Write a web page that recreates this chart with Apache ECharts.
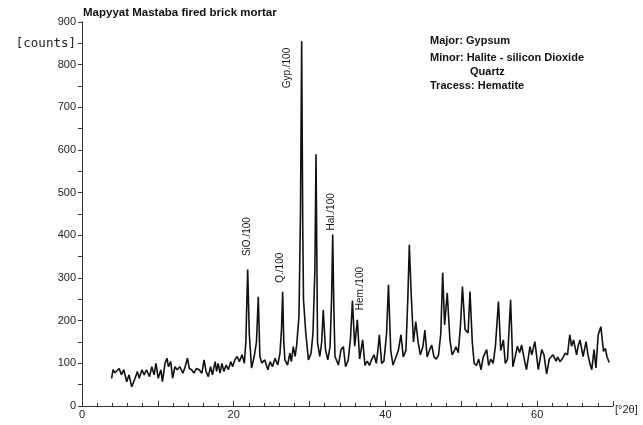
<!DOCTYPE html>
<html><head><meta charset="utf-8">
<script src="https://cdn.jsdelivr.net/npm/echarts@6/dist/echarts.min.js"></script>
<style>html,body{margin:0;padding:0;background:#fff}#c{width:643px;height:425px}</style>
</head><body><div id="c"></div>
<script>
const chartTitle = 'Mapyyat Mastaba fired brick mortar';
const twoTheta = [3.9,4.1,4.35,4.6,4.9,5.2,5.5,5.9,6.2,6.55,7.0,7.3,7.55,7.9,8.2,8.5,8.9,9.2,9.5,9.75,10.05,10.4,10.6,10.95,11.2,11.4,11.7,11.95,12.25,12.55,12.9,13.3,13.6,13.9,14.15,14.45,14.75,15.1,15.45,15.8,16.1,16.35,16.65,16.95,17.2,17.55,17.75,17.95,18.2,18.45,18.7,19.0,19.3,19.6,19.85,20.15,20.45,20.75,21.1,21.4,21.6,21.84,22.05,22.35,22.7,23.0,23.24,23.45,23.7,24.1,24.5,24.8,25.1,25.45,25.8,26.1,26.3,26.45,26.6,26.75,27.1,27.4,27.6,27.85,28.1,28.3,28.6,28.8,28.96,29.1,29.2,29.5,29.85,30.2,30.45,30.7,30.85,31.05,31.35,31.6,31.8,32.1,32.4,32.7,32.9,33.05,33.2,33.35,33.8,34.15,34.45,34.75,35.1,35.4,35.65,35.95,36.3,36.6,37.0,37.3,37.6,37.9,38.2,38.5,38.8,39.0,39.2,39.5,39.8,40.15,40.4,40.7,41.0,41.3,41.7,42.05,42.35,42.7,42.95,43.15,43.4,43.7,44.0,44.3,44.6,44.95,45.2,45.5,45.8,46.1,46.4,46.7,47.0,47.3,47.55,47.8,48.15,48.5,48.8,49.1,49.3,49.6,49.9,50.15,50.5,50.9,51.15,51.45,51.7,52.0,52.3,52.6,52.9,53.35,53.6,53.9,54.2,54.5,54.9,55.2,55.55,55.8,56.1,56.5,56.8,57.1,57.4,57.7,57.95,58.3,58.6,59.05,59.3,59.7,59.95,60.15,60.6,60.9,61.25,61.6,62.1,62.5,62.7,63.0,63.3,63.7,64.0,64.3,64.55,64.8,65.2,65.4,65.65,66.05,66.45,66.7,66.95,67.2,67.5,67.75,68.05,68.4,68.75,69.0,69.2,69.5];
const counts = [65,85,78,81,88,73,85,57,73,45,65,81,65,85,73,85,69,92,73,100,65,85,57,100,112,92,104,65,92,85,92,77,92,112,88,85,77,88,85,77,108,81,69,92,73,104,81,100,77,100,81,96,85,104,92,108,116,104,120,100,150,320,170,89,116,150,256,116,101,108,85,104,92,112,96,124,180,268,150,108,96,124,104,139,116,143,210,450,855,420,249,171,108,124,171,320,590,148,116,150,225,132,108,139,250,402,230,116,96,132,139,92,108,160,247,140,202,110,155,95,105,95,110,120,100,130,167,100,105,170,284,130,96,110,130,167,115,130,250,378,260,150,198,151,120,140,178,115,130,143,115,110,120,170,312,190,265,155,120,130,139,125,190,280,179,171,268,150,100,95,110,85,115,132,95,110,100,140,245,130,155,100,110,249,92,115,140,125,143,110,85,139,120,151,115,85,132,120,75,110,120,105,115,104,110,124,120,167,140,155,120,140,155,116,151,120,100,85,132,89,167,186,128,135,116,102];
const peakNames = ['SiO./100','Q./100','Gyp./100','Hal./100','Hem./100'];
const peakLabelX = [21.84,26.1,27.06,32.82,36.7];
const peakLabelY = [397,324,792,455,275];
const xTickLabels = [0,20,40,60];
const yTickLabels = [0,100,200,300,400,500,600,700,800,900];
const yUnitLabel = '[counts]';
const yUnitAt = 850;
const xUnitLabel = '[°2θ]';
const phaseLines = ['Major: Gypsum','Minor: Halite - silicon Dioxide','Quartz','Tracess: Hematite'];

const chart = echarts.init(document.getElementById('c'), null, {renderer:'canvas'});
const font = '"Liberation Sans", Arial, sans-serif';
const points = twoTheta.map((x,i)=>[x,counts[i]]);
chart.setOption({
  animation:false,
  backgroundColor:'#fff',
  grid:{left:82,right:30,top:22,bottom:19},
  title:{text:chartTitle,left:78,top:2,textStyle:{fontFamily:font,fontSize:11.5,fontWeight:'bold',color:'#111'}},
  xAxis:[{
    type:'value',min:0,max:70,interval:10,
    axisLine:{show:true,lineStyle:{color:'#333',width:1}},
    axisTick:{show:true,inside:true,length:5,lineStyle:{color:'#333'}},
    minorTick:{show:true,splitNumber:5,length:3,lineStyle:{color:'#333'}},
    splitLine:{show:false},
    axisLabel:{fontFamily:font,fontSize:11,color:'#222',margin:3,
      formatter:v=>xTickLabels.indexOf(v)>=0?String(v):''}
  },{
    type:'value',min:0,max:70,position:'top',
    axisLine:{show:true,lineStyle:{color:'#333',width:1,type:[6,3]}},
    axisTick:{show:false},axisLabel:{show:false},splitLine:{show:false}
  }],
  yAxis:[{
    type:'value',min:0,max:900,interval:50,
    axisLine:{show:true,lineStyle:{color:'#333',width:1}},
    axisTick:{show:true,length:4,lineStyle:{color:'#333'}},
    splitLine:{show:false},
    axisLabel:{fontFamily:font,fontSize:11,color:'#222',margin:6,
      formatter:v=>v===yUnitAt?'{u|'+yUnitLabel+'}':(yTickLabels.indexOf(v)>=0?String(v):''),
      rich:{u:{fontFamily:'"DejaVu Sans Mono", monospace',fontSize:12.5,color:'#222'}}}
  },{
    type:'value',min:0,max:900,position:'right',
    axisLine:{show:true,lineStyle:{color:'#333',width:1}},
    axisTick:{show:false},axisLabel:{show:false},splitLine:{show:false}
  }],
  graphic:[
    {type:'group',left:430,top:35,children:phaseLines.map((t,i)=>({
      type:'text',x:i===2?40:0,y:[0,17,31,45][i],
      style:{text:t,font:'bold 11px '+font,fill:'#111'}
    }))},
    {type:'text',left:615,top:404,style:{text:xUnitLabel,font:'11px '+font,fill:'#222'}}
  ],
  series:[{
    type:'line',data:points,showSymbol:false,symbol:'none',
    lineStyle:{color:'#111',width:1.6},
    markPoint:{
      symbol:'circle',symbolSize:0,silent:true,
      label:{show:true,rotate:90,position:'inside',fontFamily:font,fontSize:10,color:'#111',
        formatter:p=>p.name},
      data:peakNames.map((n,i)=>({name:n,coord:[peakLabelX[i],peakLabelY[i]]}))
    }
  }]
});
</script></body></html>
